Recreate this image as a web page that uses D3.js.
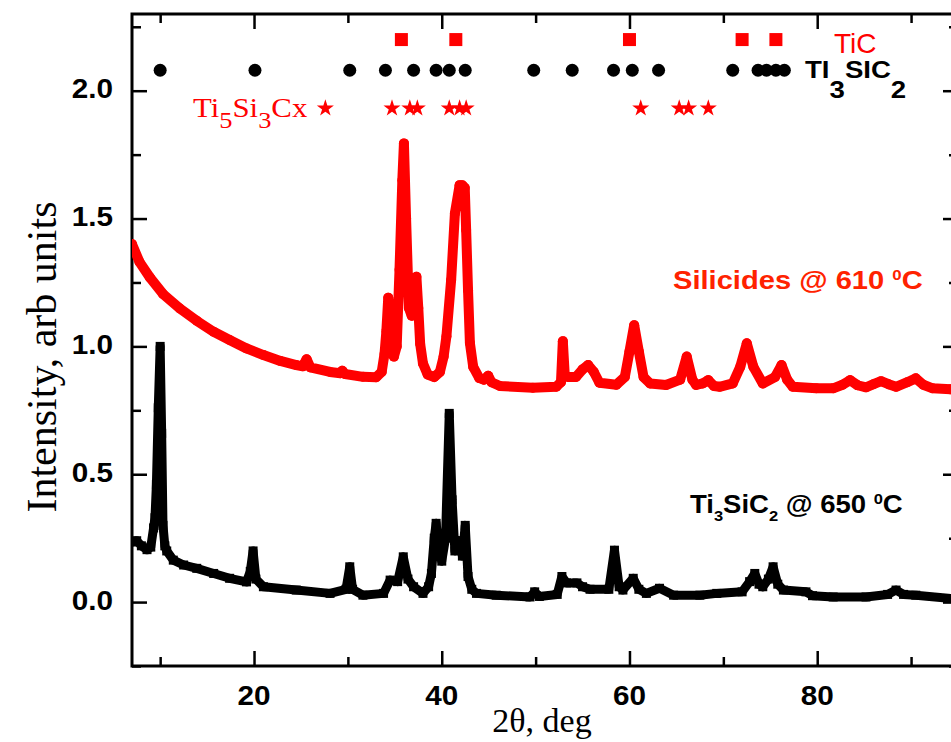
<!DOCTYPE html>
<html>
<head>
<meta charset="utf-8">
<script src="https://d3js.org/d3.v7.min.js"></script>
<style>
  body { margin: 0; background: #fff; }
  svg { display: block; }
</style>
</head>
<body>
<div id="chart"></div>
<script>
// Silicides @ 610 C (red, circles)
var silicidesTheta = [7.0, 7.8, 8.9, 10.3, 12.1, 13.9, 15.7, 17.4, 19.2, 21.0, 22.8, 24.5, 25.2, 25.6, 26.0,
    28.1, 29.2, 29.4, 29.7, 31.6, 33.0, 33.6, 33.9, 34.1, 34.3, 34.6, 34.9, 35.2, 35.5, 35.8, 35.97,
    36.2, 36.5, 36.8, 37.1, 37.3, 37.5, 37.7, 38.0, 38.5, 39.2, 39.8, 40.2, 40.5, 41.0, 41.4, 41.9,
    42.2, 42.45, 42.6, 42.8, 43.0, 43.35, 44.0, 44.5, 44.95, 45.3, 46.2, 49.7, 52.2, 52.7, 52.9, 53.1,
    53.5, 54.3, 55.0, 55.6, 56.2, 56.8, 58.6, 59.5, 60.0, 60.5, 61.0, 61.5, 62.2, 63.9, 65.4, 66.1,
    66.7, 67.1, 67.8, 68.4, 69.0, 69.6, 71.0, 71.8, 72.5, 73.2, 74.2, 75.5, 76.2, 76.8, 77.4, 79.9,
    81.7, 82.7, 83.5, 84.3, 85.2, 86.0, 86.8, 87.6, 88.4, 89.6, 90.5, 91.3, 92.3, 94.2];
var silicidesIntensity = [1.40, 1.33, 1.27, 1.205, 1.148, 1.10, 1.057, 1.025, 0.992, 0.966, 0.943, 0.927, 0.922, 0.95, 0.918,
    0.90, 0.895, 0.905, 0.892, 0.881, 0.879, 0.90, 0.97, 1.06, 1.19, 1.05, 0.96, 1.0, 1.3, 1.65, 1.794,
    1.5, 1.15, 1.12, 1.2, 1.272, 1.15, 1.01, 0.933, 0.89, 0.88, 0.9, 0.96, 1.04, 1.26, 1.52, 1.63,
    1.63, 1.62, 1.455, 1.22, 1.013, 0.92, 0.876, 0.87, 0.885, 0.86, 0.845, 0.838, 0.842, 0.86, 1.02, 0.89,
    0.88, 0.88, 0.91, 0.927, 0.9, 0.858, 0.85, 0.88, 0.98, 1.083, 0.98, 0.88, 0.855, 0.849, 0.87, 0.96,
    0.87, 0.849, 0.855, 0.868, 0.845, 0.842, 0.855, 0.92, 1.012, 0.92, 0.855, 0.88, 0.927, 0.87, 0.842, 0.836,
    0.836, 0.85, 0.868, 0.848, 0.84, 0.852, 0.864, 0.852, 0.842, 0.86, 0.875, 0.85, 0.836, 0.832];

// Ti3SiC2 @ 650 C (black, squares)
var ti3sic2Theta = [7.0, 7.5, 8.0, 8.6, 9.0, 9.3, 9.45, 9.6, 9.8, 10.0, 10.16, 10.3, 10.5, 10.7, 11.4,
    12.5, 13.9, 15.7, 17.4, 19.2, 19.6, 19.9, 20.2, 21.0, 24.5, 28.1, 29.8, 30.2, 30.5, 31.6, 33.8,
    34.5, 35.3, 35.9, 36.4, 37.0, 38.0, 38.6, 38.9, 39.2, 39.4, 39.7, 40.0, 40.4, 40.8, 41.1, 41.4,
    41.8, 42.2, 42.5, 42.8, 43.2, 43.7, 45.8, 49.4, 49.9, 50.4, 52.3, 52.8, 53.3, 54.4, 55.0, 55.8,
    57.8, 58.4, 58.9, 59.3, 60.4, 61.0, 61.8, 63.2, 64.7, 67.5, 69.3, 72.0, 72.8, 73.35, 73.8, 74.2,
    74.8, 75.3, 75.8, 76.4, 78.8, 79.5, 81.7, 85.2, 87.5, 88.4, 89.2, 90.5, 94.2];
var ti3sic2Intensity = [0.235, 0.24, 0.22, 0.205, 0.215, 0.29, 0.33, 0.46, 0.76, 1.0, 0.66, 0.3, 0.22, 0.2, 0.164,
    0.145, 0.132, 0.112, 0.093, 0.079, 0.12, 0.2, 0.09, 0.06, 0.047, 0.034, 0.05, 0.138, 0.05, 0.027, 0.034,
    0.086, 0.08, 0.177, 0.09, 0.06, 0.034, 0.06, 0.112, 0.25, 0.308, 0.2, 0.16, 0.25, 0.738, 0.4, 0.2,
    0.24, 0.18, 0.30, 0.1, 0.05, 0.034, 0.027, 0.02, 0.04, 0.022, 0.03, 0.1, 0.075, 0.075, 0.06, 0.05,
    0.05, 0.203, 0.06, 0.047, 0.093, 0.05, 0.034, 0.054, 0.027, 0.027, 0.034, 0.04, 0.08, 0.112, 0.07, 0.06,
    0.09, 0.138, 0.07, 0.047, 0.04, 0.025, 0.02, 0.02, 0.03, 0.047, 0.03, 0.027, 0.014];

// reference line positions shown above the curves
var ticLines = [35.7, 41.5, 60.0, 72.0, 75.6];
var ti3sic2Lines = [10.0, 20.1, 30.2, 34.0, 37.0, 39.4, 40.8, 42.5, 49.8, 53.9, 58.3, 60.3, 63.1, 71.0, 73.7, 74.6, 75.6, 76.5];
var ti5si3Lines = [27.6, 34.7, 36.6, 37.4, 40.8, 41.9, 42.6, 61.2, 65.3, 66.3, 68.4];
var ticRowY = 2.2, ti3sic2RowY = 2.08, ti5si3RowY = 1.935;

var xMajor = [20, 40, 60, 80];
var xMinor = [10, 30, 50, 70, 90];
var yMajor = [0.0, 0.5, 1.0, 1.5, 2.0];
var yMinor = [-0.25, 0.25, 0.75, 1.25, 1.75, 2.25];

var width = 951, height = 742;
var plotLeft = 132, plotRight = 958, plotTop = 14, plotBottom = 666;
var sans = '"Liberation Sans", Arial, sans-serif';
var serif = '"Liberation Serif", "Times New Roman", serif';

var x = d3.scaleLinear().domain([7, 95]).range([plotLeft, plotRight]);
var y = d3.scaleLinear().domain([-0.25, 2.3]).range([plotBottom, plotTop]);

var svg = d3.select('#chart').append('svg')
    .attr('width', width)
    .attr('height', height);

svg.append('clipPath').attr('id', 'plot-clip')
    .append('rect')
    .attr('x', plotLeft).attr('y', plotTop)
    .attr('width', plotRight - plotLeft).attr('height', plotBottom - plotTop);

// ticks on all four sides, pointing inward
function drawTicks(axis, tx, ty) {
    var g = svg.append('g').attr('transform', 'translate(' + tx + ',' + ty + ')').call(axis);
    g.select('.domain').remove();
    g.selectAll('line').attr('stroke', '#000').attr('stroke-width', 2.5);
}
drawTicks(d3.axisBottom(x).tickValues(xMajor).tickSize(-15).tickFormat(''), 0, plotBottom);
drawTicks(d3.axisBottom(x).tickValues(xMinor).tickSize(-9).tickFormat(''), 0, plotBottom);
drawTicks(d3.axisTop(x).tickValues(xMajor).tickSize(-15).tickFormat(''), 0, plotTop);
drawTicks(d3.axisTop(x).tickValues(xMinor).tickSize(-9).tickFormat(''), 0, plotTop);
drawTicks(d3.axisLeft(y).tickValues(yMajor).tickSize(-15).tickFormat(''), plotLeft, 0);
drawTicks(d3.axisLeft(y).tickValues(yMinor).tickSize(-9).tickFormat(''), plotLeft, 0);
drawTicks(d3.axisRight(y).tickValues(yMajor).tickSize(-15).tickFormat(''), plotRight, 0);
drawTicks(d3.axisRight(y).tickValues(yMinor).tickSize(-9).tickFormat(''), plotRight, 0);

svg.append('rect')
    .attr('x', plotLeft).attr('y', plotTop)
    .attr('width', plotRight - plotLeft).attr('height', plotBottom - plotTop)
    .attr('fill', 'none').attr('stroke', '#000').attr('stroke-width', 3);

// tick labels
svg.selectAll('.xlab').data(xMajor).enter().append('text')
    .attr('transform', function (d) { return 'translate(' + x(d) + ',705) scale(1.1,1)'; })
    .attr('text-anchor', 'middle')
    .style('font', 'bold 27px ' + sans)
    .text(function (d) { return d; });

svg.selectAll('.ylab').data(yMajor).enter().append('text')
    .attr('transform', function (d) { return 'translate(113,' + (y(d) + 7.5) + ') scale(1.1,1)'; })
    .attr('text-anchor', 'end')
    .style('font', 'bold 27px ' + sans)
    .text(function (d) { return d.toFixed(1); });

// axis titles
svg.append('text')
    .attr('x', 542).attr('y', 732)
    .attr('text-anchor', 'middle')
    .style('font', '34px ' + serif)
    .text('2\u03b8, deg');

svg.append('text')
    .attr('transform', 'translate(56,357) rotate(-90)')
    .attr('text-anchor', 'middle')
    .style('font', '42px ' + serif)
    .text('Intensity, arb units');

// curves
var plot = svg.append('g').attr('clip-path', 'url(#plot-clip)');

var blackPts = ti3sic2Theta.map(function (t, i) { return [t, ti3sic2Intensity[i]]; });
var redPts = silicidesTheta.map(function (t, i) { return [t, silicidesIntensity[i]]; });

var line = d3.line()
    .x(function (d) { return x(d[0]); })
    .y(function (d) { return y(d[1]); });

plot.append('path')
    .attr('d', line(blackPts))
    .attr('fill', 'none').attr('stroke', '#000')
    .attr('stroke-width', 9).attr('stroke-linejoin', 'round').attr('stroke-linecap', 'square');

plot.selectAll('.sq').data(blackPts).enter().append('rect')
    .attr('x', function (d) { return x(d[0]) - 4.5; })
    .attr('y', function (d) { return y(d[1]) - 4.5; })
    .attr('width', 9).attr('height', 9)
    .attr('fill', '#000');

plot.append('path')
    .attr('d', line(redPts))
    .attr('fill', 'none').attr('stroke', '#ff0000')
    .attr('stroke-width', 10).attr('stroke-linejoin', 'round').attr('stroke-linecap', 'round');

plot.selectAll('.dot').data(redPts).enter().append('circle')
    .attr('cx', function (d) { return x(d[0]); })
    .attr('cy', function (d) { return y(d[1]); })
    .attr('r', 5)
    .attr('fill', '#ff0000');

// phase markers
svg.selectAll('.tic').data(ticLines).enter().append('rect')
    .attr('x', function (d) { return x(d) - 6.5; })
    .attr('y', y(ticRowY) - 6.5)
    .attr('width', 13).attr('height', 13)
    .attr('fill', '#ff0000');

svg.selectAll('.tsc').data(ti3sic2Lines).enter().append('circle')
    .attr('cx', function (d) { return x(d); })
    .attr('cy', y(ti3sic2RowY))
    .attr('r', 6.5)
    .attr('fill', '#000');

var star = d3.symbol().type(d3.symbolStar).size(90);
svg.selectAll('.star').data(ti5si3Lines).enter().append('path')
    .attr('d', star)
    .attr('transform', function (d) { return 'translate(' + x(d) + ',' + (y(ti5si3RowY) + 1) + ')'; })
    .attr('fill', '#ff0000');

// labels
svg.append('text')
    .attr('x', 834).attr('y', 53)
    .attr('fill', '#ff0000')
    .style('font', '28px ' + sans)
    .text('TiC');

var t1 = svg.append('text')
    .attr('transform', 'translate(805,78) scale(1.2,1)')
    .attr('fill', '#000')
    .style('font', 'bold 23px ' + sans);
t1.append('tspan').text('TI');
t1.append('tspan').attr('dy', 20).text('3');
t1.append('tspan').attr('dy', -20).text('SIC');
t1.append('tspan').attr('dy', 20).text('2');

var t2 = svg.append('text')
    .attr('transform', 'translate(193,117) scale(1.1,1)')
    .attr('fill', '#ff0000')
    .style('font', '28px ' + serif);
t2.append('tspan').text('Ti');
t2.append('tspan').attr('dy', 11).style('font-size', '24px').text('5');
t2.append('tspan').attr('dy', -11).text('Si');
t2.append('tspan').attr('dy', 11).style('font-size', '24px').text('3');
t2.append('tspan').attr('dy', -11).text('Cx');

var t3 = svg.append('text')
    .attr('transform', 'translate(673,289) scale(1.12,1)')
    .attr('fill', '#ff2200')
    .style('font', 'bold 26px ' + sans);
t3.append('tspan').text('Silicides @ 610 ');
t3.append('tspan').attr('dy', -9).style('font-size', '15px').text('0');
t3.append('tspan').attr('dy', 9).text('C');

var t4 = svg.append('text')
    .attr('transform', 'translate(690,513) scale(1.1,1)')
    .attr('fill', '#000')
    .style('font', 'bold 25px ' + sans);
t4.append('tspan').text('Ti');
t4.append('tspan').attr('dy', 8).style('font-size', '15px').text('3');
t4.append('tspan').attr('dy', -8).text('SiC');
t4.append('tspan').attr('dy', 8).style('font-size', '15px').text('2');
t4.append('tspan').attr('dy', -8).text(' @ 650 ');
t4.append('tspan').attr('dy', -9).style('font-size', '15px').text('0');
t4.append('tspan').attr('dy', 9).text('C');
</script>
</body>
</html>
